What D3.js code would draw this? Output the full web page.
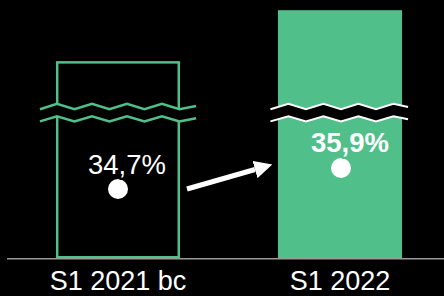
<!DOCTYPE html>
<html><head><meta charset="utf-8">
<script src="https://cdn.jsdelivr.net/npm/d3@7"></script>
<style>html,body{margin:0;padding:0;background:#000;}svg{display:block;}</style>
</head><body>
<script>
const categories = ["S1 2021 bc", "S1 2022"];
const values = [34.7, 35.9];
const valueLabels = ["34,7%", "35,9%"];
const filled = [false, true];

const W = 444, H = 296;
const green = "#50bf89";
const svg = d3.select("body").append("svg").attr("width", W).attr("height", H);
svg.append("rect").attr("width", W).attr("height", H).attr("fill", "#000");

const baseY = 258.5;
const x = d3.scaleBand().domain(categories).range([7, 451]).paddingInner(0.441).paddingOuter(0.2205);
const y = d3.scaleLinear().domain([30.05, 36.14]).range([baseY, 0]);

const bw = x.bandwidth();
categories.forEach((c, i) => {
  const x0 = x(c), top = y(values[i]);
  if (filled[i]) {
    svg.append("rect").attr("x", x0).attr("y", top).attr("width", bw).attr("height", baseY - top).attr("fill", green);
  } else {
    svg.append("rect").attr("x", x0 + 1.25).attr("y", top + 1.25).attr("width", bw - 2.5).attr("height", baseY - top - 2.5)
      .attr("fill", "none").attr("stroke", green).attr("stroke-width", 2.5);
  }
});

function zig(x0, x1, yPeak, amp, period, firstPeak) {
  const pts = [[x0, yPeak + amp]];
  for (let xx = firstPeak; xx < x1; xx += period / 2) {
    const k = Math.round((xx - firstPeak) / (period / 2));
    pts.push([xx, k % 2 === 0 ? yPeak : yPeak + amp]);
  }
  pts.push([x1, pts[pts.length - 1][1] === yPeak ? yPeak + amp * 0.6 : yPeak + amp * 0.4]);
  return pts;
}
const line = d3.line();
function brk(x0, x1, firstPeak, color, sw) {
  const up = zig(x0, x1, 103.8, 5.4, 35, firstPeak);
  const lo = zig(x0, x1, 116.2, 5.2, 35, firstPeak);
  const band = up.concat(lo.slice().reverse());
  svg.append("path").attr("d", line(band) + "Z").attr("fill", "#000");
  svg.append("path").attr("d", line(up)).attr("fill", "none").attr("stroke", color).attr("stroke-width", sw);
  svg.append("path").attr("d", line(lo)).attr("fill", "none").attr("stroke", color).attr("stroke-width", sw);
}
brk(x(categories[0]) - 16, x(categories[0]) + bw + 16, x(categories[0]) + 1, green, 2.5);
brk(x(categories[1]) - 7.5, x(categories[1]) + bw + 6, x(categories[1]) + 10.5, "#fff", 2);

svg.append("line").attr("x1", 7).attr("x2", W).attr("y1", baseY + 0.3).attr("y2", baseY + 0.3)
  .attr("stroke", "#999").attr("stroke-width", 1.6);

const dotPos = [{dx: 0, y: 189}, {dx: 1, y: 168}];
const labelPos = [{dx: 9, y: 174, bold: false, bg: "#000"}, {dx: 10, y: 152, bold: true, bg: green}];
categories.forEach((c, i) => {
  const cx = x(c) + bw / 2;
  svg.append("circle").attr("cx", cx + dotPos[i].dx).attr("cy", dotPos[i].y).attr("r", 10).attr("fill", "#fff");
  svg.append("text").attr("x", cx + labelPos[i].dx).attr("y", labelPos[i].y)
    .attr("text-anchor", "middle")
    .attr("font-family", "Liberation Sans, Arial, sans-serif")
    .attr("font-size", 27.5)
    .attr("font-weight", labelPos[i].bold ? "bold" : "normal")
    .attr("fill", "#fff")
    .attr("stroke", labelPos[i].bg).attr("stroke-width", 5).attr("stroke-linejoin", "round").attr("paint-order", "stroke")
    .text(valueLabels[i]);
  svg.append("text").attr("x", cx).attr("y", 290)
    .attr("text-anchor", "middle")
    .attr("font-family", "Liberation Sans, Arial, sans-serif")
    .attr("font-size", 27)
    .attr("fill", "#fff")
    .text(c);
});

svg.append("defs").append("marker").attr("id", "ah").attr("viewBox", "0 0 10 10")
  .attr("refX", 0).attr("refY", 5).attr("markerWidth", 3.6).attr("markerHeight", 3.6)
  .attr("markerUnits", "strokeWidth").attr("orient", "auto")
  .append("path").attr("d", "M0,0 L10,5 L0,10 Z").attr("fill", "#fff");
svg.append("line").attr("x1", 187).attr("y1", 189).attr("x2", 255).attr("y2", 169.5)
  .attr("stroke", "#fff").attr("stroke-width", 5).attr("marker-end", "url(#ah)");
</script>
</body></html>
